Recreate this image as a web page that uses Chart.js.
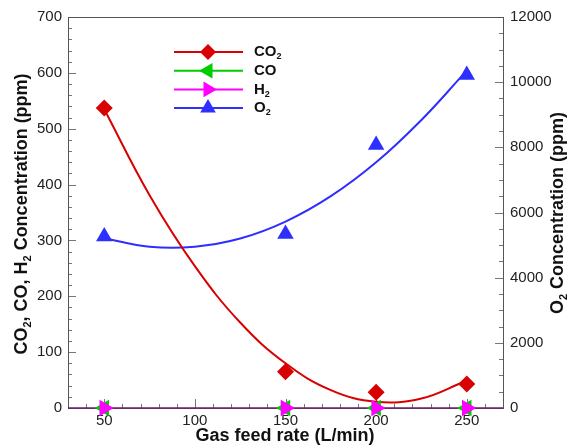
<!DOCTYPE html>
<html>
<head>
<meta charset="utf-8">
<script src="https://cdn.jsdelivr.net/npm/chart.js@4.4.1/dist/chart.umd.min.js"></script>
<style>
  html, body { margin: 0; padding: 0; background: #fff; }
  #wrap { width: 575px; height: 448px; }
</style>
</head>
<body>
<div id="wrap"><canvas id="chart" width="575" height="448"></canvas></div>
<script>
// measured points
const feedRates = [50, 150, 200, 250];
const co2 = [537, 65, 28, 43];
const co = [0, 0, 0, 0];
const h2 = [0, 0, 0, 0];
const o2 = [5260, 5340, 8070, 10220];

// fitted curves
const fitRates = [50, 75, 100, 125, 150, 175, 200, 225, 248];
const co2Fit = [535, 381, 254, 153, 80, 32, 11, 17, 46];
const o2Fit = [5210, 4950, 4950, 5200, 5720, 6500, 7540, 8840, 10230];

// axis ticks
const xTicks = [50, 100, 150, 200, 250];
const xMinor = [40, 60, 70, 80, 90, 110, 120, 130, 140, 160, 170, 180, 190, 210, 220, 230, 240, 260];
const yTicks = [0, 100, 200, 300, 400, 500, 600, 700];
const y2Ticks = [0, 2000, 4000, 6000, 8000, 10000, 12000];

const RED = '#d80000';
const GREEN = '#00cc00';
const MAGENTA = '#ff00ff';
const BLUE = '#2e2eff';
const FONT = '"Liberation Sans", Arial, sans-serif';

const pts = (xs, ys) => xs.map((x, i) => ({ x: x, y: ys[i] }));

// legend entries (drawn by plugin so the subscripts come out right)
const legendItems = [
    { label: [['CO', 0], ['2', 1]], color: RED, style: 'rectRot', radius: 8, rotation: 0 },
    { label: [['CO', 0]], color: GREEN, style: 'triangle', radius: 9, rotation: -90 },
    { label: [['H', 0], ['2', 1]], color: MAGENTA, style: 'triangle', radius: 9, rotation: 90 },
    { label: [['O', 0], ['2', 1]], color: BLUE, style: 'triangle', radius: 9, rotation: 0 },
];

/**
 * 带下标的文字
 */
function drawRich(ctx, parts, x, y, size, align) {
    const big = `bold ${size}px ${FONT}`;
    const small = `bold ${Math.round(size * 0.6)}px ${FONT}`;
    let total = 0;
    parts.forEach(([t, sub]) => {
        ctx.font = sub ? small : big;
        total += ctx.measureText(t).width;
    });
    let cx = align === 'center' ? x - total / 2 : x;
    ctx.textAlign = 'left';
    ctx.textBaseline = 'middle';
    parts.forEach(([t, sub]) => {
        ctx.font = sub ? small : big;
        ctx.fillText(t, cx, sub ? y + size * 0.32 : y);
        cx += ctx.measureText(t).width;
    });
}

// frame + inward ticks
const framePlugin = {
    id: 'frame',
    beforeDatasetsDraw(chart) {
        const { ctx, chartArea: a, scales } = chart;
        ctx.save();
        ctx.lineWidth = 1;
        ctx.strokeStyle = '#777';
        ctx.beginPath();
        for (let v = 0; v <= 700; v += 20) {
            const y = Math.round(scales.y.getPixelForValue(v)) + 0.5;
            const len = v % 100 === 0 ? 8 : 4;
            ctx.moveTo(a.left, y);
            ctx.lineTo(a.left + len, y);
        }
        for (let v = 0; v <= 12000; v += 500) {
            const y = Math.round(scales.y2.getPixelForValue(v)) + 0.5;
            const len = v % 2000 === 0 ? 8 : 4;
            ctx.moveTo(a.right, y);
            ctx.lineTo(a.right - len, y);
        }
        xTicks.concat(xMinor).forEach(v => {
            const x = Math.round(scales.x.getPixelForValue(v)) + 0.5;
            const len = v % 50 === 0 ? 9 : 4;
            ctx.moveTo(x, a.bottom);
            ctx.lineTo(x, a.bottom - len);
        });
        ctx.stroke();

        ctx.strokeStyle = '#555';
        ctx.strokeRect(Math.round(a.left) + 0.5, Math.round(a.top) + 0.5,
            Math.round(a.right - a.left), Math.round(a.bottom - a.top));
        ctx.strokeStyle = '#6a1e6a';
        ctx.lineWidth = 1.5;
        ctx.beginPath();
        ctx.moveTo(a.left, a.bottom);
        ctx.lineTo(a.right, a.bottom);
        ctx.stroke();
        ctx.restore();
    },
    afterDraw(chart) {
        const ctx = chart.ctx;
        ctx.save();
        ctx.fillStyle = '#111';

        // axis titles
        drawRich(ctx, [['Gas feed rate (L/min)', 0]], 285, 436, 18, 'center');

        ctx.save();
        ctx.translate(22, 214);
        ctx.rotate(-Math.PI / 2);
        drawRich(ctx, [['CO', 0], ['2', 1], [', CO, H', 0], ['2', 1], [' Concentration (ppm)', 0]], 0, 0, 18, 'center');
        ctx.restore();

        ctx.save();
        ctx.translate(558, 213);
        ctx.rotate(-Math.PI / 2);
        drawRich(ctx, [['O', 0], ['2', 1], [' Concentration (ppm)', 0]], 0, 0, 18, 'center');
        ctx.restore();

        // legend
        legendItems.forEach((item, i) => {
            const y = 52 + i * 18.7;
            ctx.strokeStyle = item.color;
            ctx.fillStyle = item.color;
            ctx.lineWidth = 2;
            ctx.beginPath();
            ctx.moveTo(174, y);
            ctx.lineTo(243, y);
            ctx.stroke();
            Chart.helpers.drawPoint(ctx, {
                pointStyle: item.style,
                radius: item.radius,
                rotation: item.rotation,
                borderWidth: 0,
            }, 208, y);
            ctx.fillStyle = '#111';
            drawRich(ctx, item.label, 254, y, 15, 'left');
        });
        ctx.restore();
    },
};

const markerSet = (label, data, color, style, rotation, radius, yAxisID, order) => ({
    label: label,
    data: data,
    yAxisID: yAxisID,
    showLine: false,
    pointStyle: style,
    rotation: rotation,
    pointRadius: radius,
    pointBackgroundColor: color,
    pointBorderWidth: 0,
    borderColor: color,
    clip: false,
    order: order,
});

const tickFont = { family: FONT, size: 15 };
const plain = v => String(v);

new Chart(document.getElementById('chart').getContext('2d'), {
    type: 'line',
    data: {
        datasets: [
            {
                label: 'CO2 fit',
                data: pts(fitRates, co2Fit),
                yAxisID: 'y',
                borderColor: RED,
                borderWidth: 2,
                pointRadius: 0,
                tension: 0.4,
                order: 5,
            },
            {
                label: 'O2 fit',
                data: pts(fitRates, o2Fit),
                yAxisID: 'y2',
                borderColor: BLUE,
                borderWidth: 2,
                pointRadius: 0,
                tension: 0.4,
                order: 5,
            },
            markerSet('CO2', pts(feedRates, co2), RED, 'rectRot', 0, 8.5, 'y', 3),
            markerSet('O2', pts(feedRates, o2), BLUE, 'triangle', 0, 9.5, 'y2', 3),
            markerSet('CO', pts(feedRates, co), GREEN, 'triangle', -90, 9.5, 'y', 2),
            markerSet('H2', pts(feedRates, h2), MAGENTA, 'triangle', 90, 9.5, 'y', 1),
        ],
    },
    options: {
        responsive: false,
        animation: false,
        devicePixelRatio: 1,
        layout: { padding: { top: 17, left: 0, right: 0, bottom: 0 } },
        plugins: {
            legend: { display: false },
            tooltip: { enabled: false },
        },
        scales: {
            x: {
                type: 'linear',
                min: 30,
                max: 270,
                afterBuildTicks: s => { s.ticks = xTicks.map(v => ({ value: v })); },
                afterFit: s => { s.height = 40; },
                grid: { display: false, drawTicks: false },
                border: { display: false },
                ticks: { padding: 4, color: '#222', font: tickFont, callback: plain },
            },
            y: {
                position: 'left',
                min: 0,
                max: 700,
                afterBuildTicks: s => { s.ticks = yTicks.map(v => ({ value: v })); },
                afterFit: s => { s.width = 68; },
                grid: { display: false, drawTicks: false },
                border: { display: false },
                ticks: { padding: 6, color: '#222', font: tickFont, callback: plain },
            },
            y2: {
                position: 'right',
                min: 0,
                max: 12000,
                afterBuildTicks: s => { s.ticks = y2Ticks.map(v => ({ value: v })); },
                afterFit: s => { s.width = 72; },
                grid: { display: false, drawTicks: false },
                border: { display: false },
                ticks: { padding: 7, color: '#222', font: tickFont, callback: plain },
            },
        },
    },
    plugins: [framePlugin],
});
</script>
</body>
</html>
